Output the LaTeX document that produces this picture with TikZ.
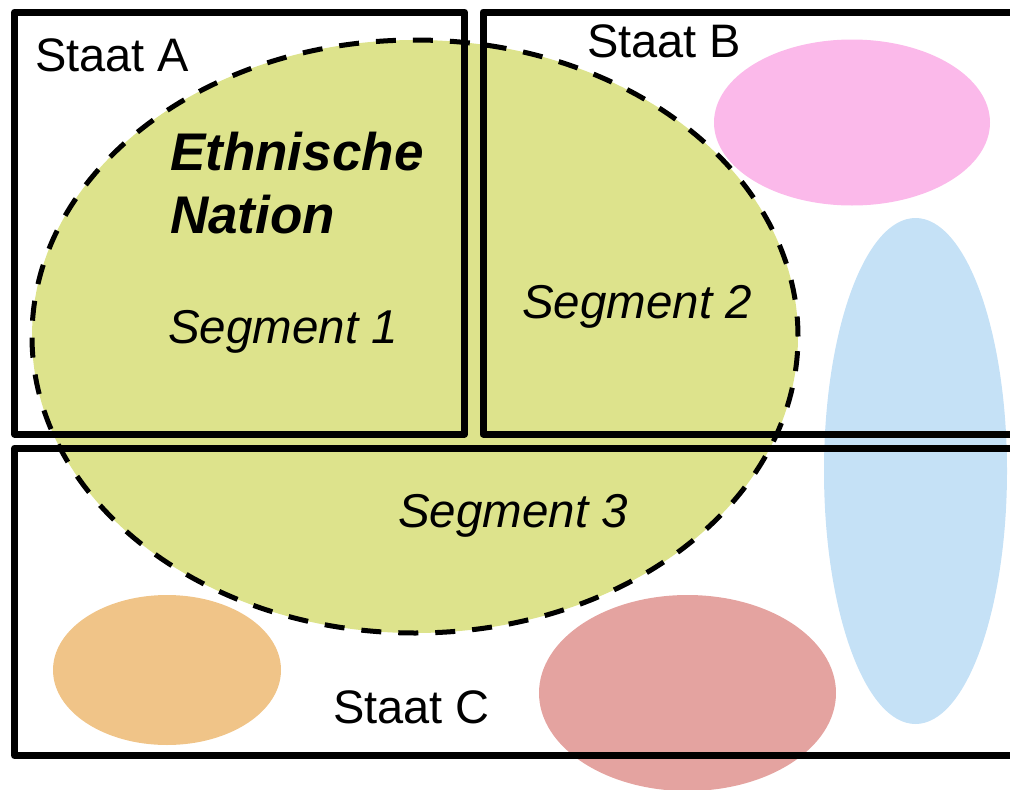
\documentclass[tikz,border=0pt]{standalone}
\usepackage{fontspec}
\setmainfont{Liberation Sans}
\definecolor{nationfill}{HTML}{DDE38C}
\definecolor{pinkfill}{HTML}{FBB9EA}
\definecolor{bluefill}{HTML}{C5E1F6}
\definecolor{orangefill}{HTML}{F0C488}
\definecolor{redfill}{HTML}{E4A3A0}
\begin{document}
\begin{tikzpicture}[x=1pt,y=-1pt,
  staatbox/.style={draw=black,line width=7pt,line join=round},
  nationline/.style={draw=black,line width=5pt,dash pattern=on 20pt off 17pt},
  lbl/.style={inner sep=0pt,anchor=base west,font=\fontsize{47}{52}\selectfont},
  seglbl/.style={lbl,font=\fontsize{47.5}{52}\selectfont\itshape},
  titlelbl/.style={lbl,font=\fontsize{53}{60}\selectfont\bfseries\itshape}]
\useasboundingbox (0,0) rectangle (1010,790);
\clip (0,0) rectangle (1010,790);
% ethnic nation
\fill[nationfill] (415,336.5) ellipse [x radius=383pt, y radius=296.5pt];
\draw[nationline] (415,336.5) ellipse [x radius=383pt, y radius=296.5pt];
% other groups
\fill[pinkfill] (852,122.5) ellipse [x radius=138pt, y radius=83pt];
\fill[bluefill] (915.5,471) ellipse [x radius=91.5pt, y radius=253pt];
\fill[orangefill] (167,670) ellipse [x radius=114pt, y radius=75pt];
\fill[redfill] (687.5,693) ellipse [x radius=148.5pt, y radius=98pt];
% states
\draw[staatbox] (14.5,12) rectangle (464.5,434);
\draw[staatbox] (483,12) rectangle (1040,434);
\draw[staatbox] (14.5,448) rectangle (1040,755.5);
% labels
\node[lbl] (staatA) at (35,71) {Staat A};
\node[lbl] (staatB) at (587,57) {Staat B};
\node[lbl] (staatC) at (333,723) {Staat C};
\node[titlelbl] (ethn) at (170,170) {Ethnische};
\node[titlelbl] (nat) at (170,233) {Nation};
\node[seglbl] (seg1) at (168,343) {Segment 1};
\node[seglbl] (seg2) at (522,318) {Segment 2};
\node[seglbl] (seg3) at (398,527) {Segment 3};
\end{tikzpicture}
\end{document}
